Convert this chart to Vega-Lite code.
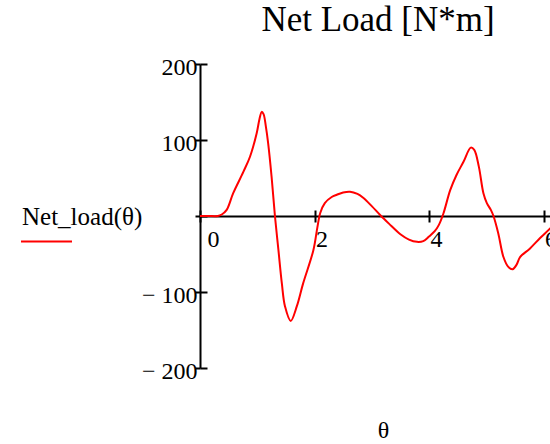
{
  "$schema": "https://vega.github.io/schema/vega-lite/v6.json",
  "width": 350,
  "height": 304,
  "autosize": {"type": "none"},
  "padding": {"left": 200, "top": 64, "right": 0, "bottom": 76},
  "background": "white",
  "config": {"view": {"stroke": null}, "font": "Liberation Serif"},
  "title": {"text": "Net Load [N*m]", "font": "Liberation Serif", "fontSize": 35, "fontWeight": "normal", "color": "black", "anchor": "middle", "frame": "group", "dx": 3, "dy": 32, "baseline": "alphabetic", "offset": 21},
  "data": {"values": [
    {"theta": 0, "v": 0}, {"theta": 0.15, "v": 0}, {"theta": 0.31, "v": 0}, {"theta": 0.38, "v": 2},
    {"theta": 0.466, "v": 8}, {"theta": 0.58, "v": 30}, {"theta": 0.757, "v": 58}, {"theta": 0.873, "v": 78},
    {"theta": 0.99, "v": 109}, {"theta": 1.04, "v": 128}, {"theta": 1.078, "v": 137}, {"theta": 1.11, "v": 134},
    {"theta": 1.15, "v": 118}, {"theta": 1.19, "v": 96}, {"theta": 1.25, "v": 52}, {"theta": 1.31, "v": -1},
    {"theta": 1.37, "v": -45}, {"theta": 1.43, "v": -89}, {"theta": 1.485, "v": -119}, {"theta": 1.584, "v": -138},
    {"theta": 1.69, "v": -119}, {"theta": 1.8, "v": -89}, {"theta": 1.98, "v": -45}, {"theta": 2.05, "v": -15},
    {"theta": 2.1, "v": 4}, {"theta": 2.18, "v": 17}, {"theta": 2.3, "v": 25}, {"theta": 2.39, "v": 28},
    {"theta": 2.5, "v": 31}, {"theta": 2.62, "v": 32}, {"theta": 2.75, "v": 29}, {"theta": 2.85, "v": 24},
    {"theta": 3.0, "v": 13}, {"theta": 3.15, "v": 1}, {"theta": 3.3, "v": -10}, {"theta": 3.5, "v": -24},
    {"theta": 3.65, "v": -31}, {"theta": 3.79, "v": -34}, {"theta": 3.9, "v": -33}, {"theta": 4.0, "v": -27},
    {"theta": 4.1, "v": -20}, {"theta": 4.17, "v": -12}, {"theta": 4.25, "v": 3}, {"theta": 4.37, "v": 34},
    {"theta": 4.48, "v": 54}, {"theta": 4.6, "v": 71}, {"theta": 4.73, "v": 90}, {"theta": 4.79, "v": 87},
    {"theta": 4.87, "v": 65}, {"theta": 4.95, "v": 30}, {"theta": 5.01, "v": 17}, {"theta": 5.08, "v": 8},
    {"theta": 5.13, "v": -1}, {"theta": 5.21, "v": -23}, {"theta": 5.3, "v": -54}, {"theta": 5.385, "v": -67},
    {"theta": 5.46, "v": -70}, {"theta": 5.53, "v": -64}, {"theta": 5.59, "v": -54}, {"theta": 5.76, "v": -43},
    {"theta": 5.94, "v": -29}, {"theta": 6.12, "v": -16}, {"theta": 6.28, "v": -3}
  ]},
  "layer": [
    {
      "mark": {"type": "line", "strokeWidth": 2, "clip": true, "interpolate": "catmull-rom"},
      "encoding": {
        "x": {"field": "theta", "type": "quantitative",
          "scale": {"domain": [0, 6.113], "nice": false, "zero": false},
          "axis": {"orient": "bottom", "offset": -152, "values": [0, 2, 4, 6], "grid": false,
            "domainColor": "black", "domainWidth": 2, "tickColor": "black", "tickWidth": 2, "tickSize": 6,
            "labelFont": "Liberation Serif", "labelFontSize": 24, "labelColor": "black", "labelAlign": "left",
            "labelBaseline": "top", "labelPadding": 5,
            "labelOffset": {"condition": {"test": "datum.value == 0", "value": 7}, "value": 1},
            "title": "θ", "titleFont": "Liberation Serif", "titleFontSize": 24, "titleFontWeight": "normal",
            "titleColor": "black", "titleX": 183, "titleY": 214, "titleBaseline": "middle", "titleAlign": "center"}},
        "y": {"field": "v", "type": "quantitative",
          "scale": {"domain": [-200, 200], "nice": false},
          "axis": {"orient": "left", "values": [-200, -100, 0, 100, 200], "grid": false,
            "domainColor": "black", "domainWidth": 2, "tickColor": "black", "tickWidth": 2, "tickSize": 5,
            "labelFont": "Liberation Serif", "labelFontSize": 24, "labelColor": "black", "labelAlign": "right",
            "labelBaseline": "middle", "labelPadding": -2, "labelOffset": 3,
            "labelExpr": "datum.value < 0 ? '\u2212 ' + abs(datum.value) : (datum.value == 0 ? '' : datum.label)",
            "title": null}},
        "color": {"datum": "Net_load(θ)", "scale": {"range": ["#ff0000"]},
          "legend": {"orient": "none", "legendX": -178, "legendY": 141, "title": "Net_load(θ)",
            "titleFont": "Liberation Serif", "titleFontSize": 25, "titleFontWeight": "normal", "titleColor": "black",
            "titlePadding": -15, "symbolType": "stroke", "symbolSize": 2600, "symbolStrokeWidth": 2,
            "symbolOffset": -2, "labelExpr": "''", "labelFontSize": 1}}
      }
    },
    {
      "mark": {"type": "line", "opacity": 0},
      "encoding": {
        "x": {"field": "theta", "type": "quantitative",
          "axis": {"orient": "bottom", "offset": -152, "values": [0, 2, 4, 6], "grid": false, "domain": false,
            "labels": false, "tickColor": "black", "tickWidth": 2, "tickSize": -6, "title": null}},
        "y": {"field": "v", "type": "quantitative",
          "axis": {"orient": "left", "values": [-200, -100, 0, 100, 200], "grid": false, "domain": false,
            "labels": false, "tickColor": "black", "tickWidth": 2, "tickSize": -7, "title": null}}
      }
    }
  ],
  "resolve": {"axis": {"x": "independent", "y": "independent"}}
}
